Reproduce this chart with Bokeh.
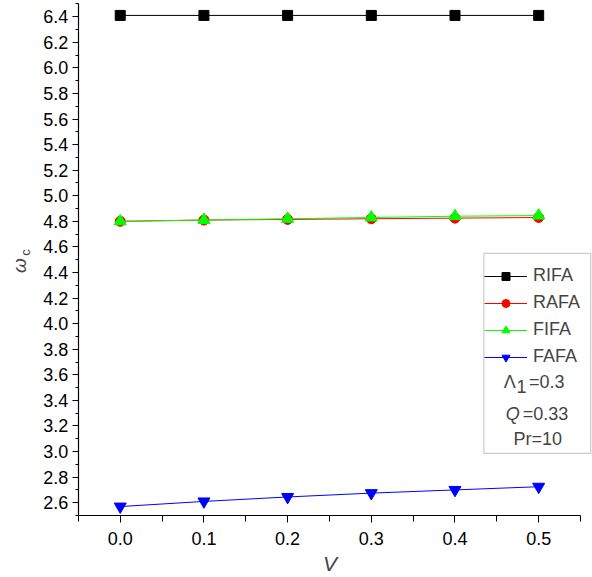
from bokeh.plotting import figure
from bokeh.models import (Range1d, Legend, LegendItem, Label, BoxAnnotation,
                          FixedTicker, LinearAxis)
from bokeh.embed import file_html
from bokeh.resources import INLINE
from math import pi

# ---- data ----
V = [0.0, 0.1, 0.2, 0.3, 0.4, 0.5]
RIFA = [6.41, 6.41, 6.41, 6.41, 6.41, 6.41]
RAFA = [4.80, 4.81, 4.815, 4.82, 4.825, 4.83]
FIFA = [4.80, 4.81, 4.82, 4.83, 4.84, 4.845]
FAFA = [2.57, 2.61, 2.645, 2.675, 2.70, 2.725]
x_ticks = [0.0, 0.1, 0.2, 0.3, 0.4, 0.5]
y_ticks = [2.6, 2.8, 3.0, 3.2, 3.4, 3.6, 3.8, 4.0, 4.2, 4.4, 4.6, 4.8,
           5.0, 5.2, 5.4, 5.6, 5.8, 6.0, 6.2, 6.4]
series_names = ["RIFA", "RAFA", "FIFA", "FAFA"]

FONT = "Liberation Sans"

# frame covers the whole canvas; axes are pinned inside it
p = figure(width=592, height=577, output_backend="svg", toolbar_location=None,
           x_range=Range1d(-0.14308, 0.56432), y_range=Range1d(2.01525, 6.52658),
           min_border_left=0, min_border_right=0, min_border_top=0,
           min_border_bottom=0, x_axis_location=None, y_axis_location=None)
p.outline_line_color = None
p.xgrid.visible = False
p.ygrid.visible = False
p.background_fill_color = "white"
p.border_fill_color = "white"

xaxis = LinearAxis(bounds=(-0.05, 0.55), fixed_location=2.5,
                   ticker=FixedTicker(ticks=x_ticks,
                                      minor_ticks=[-0.05, 0.05, 0.15, 0.25, 0.35, 0.45, 0.55]))
yaxis = LinearAxis(bounds=(2.5, 6.5), fixed_location=-0.05,
                   ticker=FixedTicker(ticks=y_ticks,
                                      minor_ticks=[round(2.5 + 0.2 * i, 2) for i in range(21)]))
for ax in (xaxis, yaxis):
    ax.axis_line_color = "black"
    ax.axis_line_width = 1.2
    ax.major_tick_line_color = "black"
    ax.minor_tick_line_color = "black"
    ax.major_tick_in = 0
    ax.minor_tick_in = 0
    ax.major_label_text_font = FONT
    ax.major_label_text_font_size = "18px"
    ax.major_label_text_color = "black"
xaxis.major_tick_out = 7
xaxis.minor_tick_out = 6
xaxis.major_label_standoff = 9
xaxis.major_label_overrides = {t: f"{t:.1f}" for t in x_ticks}
yaxis.major_tick_out = 6
yaxis.minor_tick_out = 3
yaxis.major_label_standoff = 4
yaxis.major_label_overrides = {t: f"{t:.1f}" for t in y_ticks}
p.add_layout(xaxis, "below")
p.add_layout(yaxis, "left")

# axis titles
p.add_layout(Label(x=0.2507, y=2.1247, text="V", text_font=FONT,
                   text_font_style="italic", text_font_size="21px",
                   text_align="center", text_baseline="middle"))
p.add_layout(Label(x=-0.1204, y=4.4547, text="ω", angle=pi / 2, text_font=FONT,
                   text_font_style="italic", text_font_size="19px",
                   text_align="center", text_baseline="middle"))
p.add_layout(Label(x=-0.1132, y=4.5563, text="c", angle=pi / 2, text_font=FONT,
                   text_font_size="13px", text_align="center", text_baseline="middle"))

colors = ["black", "red", "#00ff00", "blue"]
markers = ["square", "circle", "triangle", "inverted_triangle"]
sizes = [10, 10, 12, 12]
data = [RIFA, RAFA, FIFA, FAFA]
items = []
for name, ys, c, m, s in zip(series_names, data, colors, markers, sizes):
    r1 = p.line(V, ys, line_color=c, line_width=1)
    r2 = p.scatter(V, ys, marker=m, size=s, fill_color=c, line_color=c)
    items.append(LegendItem(label=name, renderers=[r1, r2]))

legend = Legend(items=items, location=(484, 210), orientation="vertical",
                border_line_color=None, background_fill_alpha=0,
                padding=5, margin=0, spacing=6, glyph_width=43, glyph_height=20,
                label_height=20, label_standoff=6, label_text_font=FONT,
                label_text_font_size="18px")
p.add_layout(legend, "center")

# legend box and parameter texts
p.add_layout(BoxAnnotation(left=0.4345, right=0.5622, top=4.550, bottom=2.985,
                           fill_alpha=0, line_color="#555555", line_width=1.2))
p.add_layout(Label(x=0.4655, y=3.540, text="Λ", text_font=FONT,
                   text_font_size="18px", text_align="center", text_baseline="middle"))
p.add_layout(Label(x=0.4795, y=3.505, text="1", text_font=FONT,
                   text_font_size="18px", text_align="center", text_baseline="middle"))
p.add_layout(Label(x=0.4885, y=3.540, text="=0.3", text_font=FONT,
                   text_font_size="18px", text_align="left", text_baseline="middle"))
p.add_layout(Label(x=0.469, y=3.297, text="Q", text_font=FONT,
                   text_font_style="italic", text_font_size="18px",
                   text_align="center", text_baseline="middle"))
p.add_layout(Label(x=0.481, y=3.297, text="=0.33", text_font=FONT,
                   text_font_size="18px", text_align="left", text_baseline="middle"))
p.add_layout(Label(x=0.499, y=3.102, text="Pr=10", text_font=FONT,
                   text_font_size="18px", text_align="center", text_baseline="middle"))

open("out.html", "w").write(file_html(p, INLINE))
